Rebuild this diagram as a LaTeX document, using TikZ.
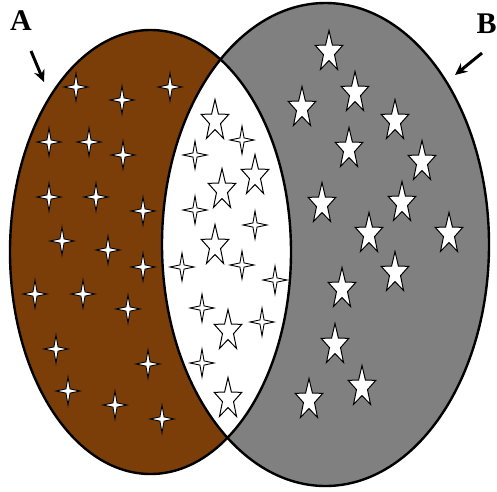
\documentclass[tikz,border=0pt]{standalone}
\usepackage{fontspec}
\setmainfont{Liberation Serif}
\usetikzlibrary{arrows.meta}
\definecolor{brownA}{RGB}{123,62,8}
\definecolor{grayB}{RGB}{128,128,128}
\tikzset{
  ellout/.style={draw=black,line width=2.4pt},
  starline/.style={fill=white,draw=black,line width=1pt,line join=miter},
  sparkline/.style={fill=white,draw=black,line width=0.9pt,line join=miter},
  bigstar/.pic={\path[starline] (-90:1) -- (-54:0.4) -- (-18:1) -- (18:0.4) -- (54:1) -- (90:0.4) -- (126:1) -- (162:0.4) -- (198:1) -- (234:0.4) -- cycle;},
  sparkle/.pic={\path[sparkline] (0,-1) -- (0.17,-0.15) -- (1,0) -- (0.17,0.15) -- (0,1) -- (-0.17,0.15) -- (-1,0) -- (-0.17,-0.15) -- cycle;},
  setname/.style={font=\bfseries\fontsize{30}{30}\selectfont, inner sep=0pt, anchor=base},
  pointer/.style={line width=3pt,-{Stealth[length=12pt,width=11pt]}},
  bs/.style={xscale=14.5,yscale=21.5},
  sp/.style={xscale=12,yscale=14}
}
\begin{document}
\begin{tikzpicture}[x=1pt,y=-1pt]
\useasboundingbox (0,0) rectangle (497,491);
\fill[white] (0,0) rectangle (497,491);
% sets
\fill[brownA] (150.5,252) ellipse [x radius=140.5, y radius=222];
\fill[grayB] (325.5,244.5) ellipse [x radius=163.5, y radius=241.5];
\begin{scope}
  \clip (150.5,252) ellipse [x radius=140.5, y radius=222];
  \fill[white] (325.5,244.5) ellipse [x radius=163.5, y radius=241.5];
\end{scope}
\draw[ellout] (150.5,252) ellipse [x radius=140.5, y radius=222];
\draw[ellout] (325.5,244.5) ellipse [x radius=163.5, y radius=241.5];
% sparkles in A only
\foreach \p in {(76,87),(122,100),(170,87),(49,142),(89,142),(123,155),(49,197),(96,197),(143,211),(62,241),(108,250),(143,267),(35,294),(83,294),(128,309),(56,349),(148,364),(68,391),(115,405),(162,419)}
  \pic[sp] at \p {sparkle};
% sparkles in intersection
\foreach \p in {(242,140),(195,155),(195,210),(255,225),(182,267),(242,265),(275,280),(202,308),(262,322),(202,363)}
  \pic[sp] at \p {sparkle};
% stars in intersection
\foreach \p in {(215,121),(255,176),(222,190),(215,246),(228,331),(228,399)}
  \pic[bs] at \p {bigstar};
% stars in B only
\foreach \p in {(329,52),(355,93),(302,108),(395,121),(349,149),(422,162),(322,204),(402,203),(369,234),(449,234),(395,273),(342,289),(335,345),(362,387),(309,400)}
  \pic[bs] at \p {bigstar};
% labels
\node[setname] (A) at (21,30) {A};
\node[setname] (B) at (486.5,33) {B};
\coordinate (aS) at (31,51);
\coordinate (aE) at (44,82);
\coordinate (bS) at (482,53);
\coordinate (bE) at (455,75);
\draw[pointer] (aS) -- (aE);
\draw[pointer] (bS) -- (bE);
\end{tikzpicture}
\end{document}
